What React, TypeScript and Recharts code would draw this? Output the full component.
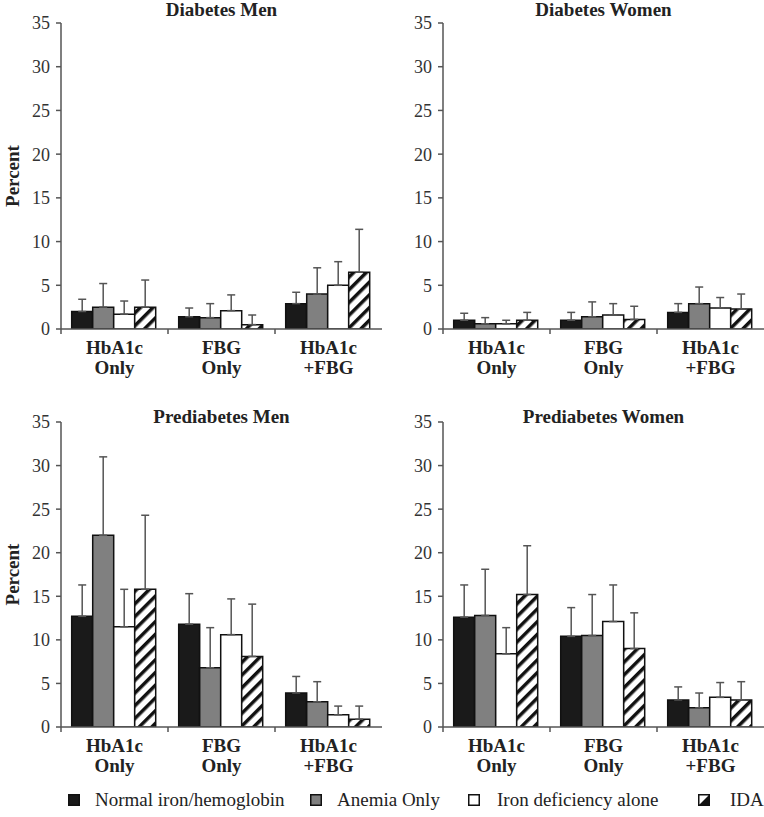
import React from 'react';
import { BarChart, Bar, XAxis, YAxis, ErrorBar } from 'recharts';

const SERIF = "'Liberation Serif', 'Times New Roman', serif";

const categories = ['HbA1c|Only', 'FBG|Only', 'HbA1c|+FBG'];
const seriesNames = ['Normal iron/hemoglobin', 'Anemia Only', 'Iron deficiency alone', 'IDA'];
const yTicks = [0, 5, 10, 15, 20, 25, 30, 35];

// one inner array per series, one value per category
const diabetesMenValues = [
  [2.0, 1.4, 2.9],
  [2.5, 1.3, 4.0],
  [1.7, 2.1, 5.0],
  [2.5, 0.5, 6.5],
];
const diabetesMenUpper = [
  [3.4, 2.4, 4.2],
  [5.2, 2.9, 7.0],
  [3.2, 3.9, 7.7],
  [5.6, 1.6, 11.4],
];
const diabetesWomenValues = [
  [1.0, 1.0, 1.9],
  [0.6, 1.4, 2.9],
  [0.6, 1.6, 2.4],
  [1.0, 1.1, 2.3],
];
const diabetesWomenUpper = [
  [1.8, 1.9, 2.9],
  [1.3, 3.1, 4.8],
  [1.0, 2.9, 3.6],
  [1.9, 2.6, 4.0],
];
const prediabetesMenValues = [
  [12.7, 11.8, 3.9],
  [22.0, 6.8, 2.9],
  [11.5, 10.6, 1.4],
  [15.8, 8.1, 0.9],
];
const prediabetesMenUpper = [
  [16.3, 15.3, 5.8],
  [31.0, 11.4, 5.2],
  [15.8, 14.7, 2.4],
  [24.3, 14.1, 2.4],
];
const prediabetesWomenValues = [
  [12.6, 10.4, 3.1],
  [12.8, 10.5, 2.2],
  [8.4, 12.1, 3.4],
  [15.2, 9.0, 3.1],
];
const prediabetesWomenUpper = [
  [16.3, 13.7, 4.6],
  [18.1, 15.2, 3.9],
  [11.4, 16.3, 5.1],
  [20.8, 13.1, 5.2],
];

const PANEL_W = 382;
const Y_AXIS_W = 61;
const BAND = (PANEL_W - Y_AXIS_W) / categories.length;

const buildRows = (values: number[][], upper: number[][]) =>
  categories.map((cat, i) => {
    const row: any = { cat };
    values.forEach((s, k) => {
      row[`s${k}`] = s[i];
      row[`e${k}`] = [0, +(upper[k][i] - s[i]).toFixed(2)];
    });
    return row;
  });

const CategoryTick = (props: any) => {
  const { x, y, payload, index } = props;
  const [l1, l2] = String(payload.value).split('|');
  const edge = x - BAND / 2;
  return (
    <g>
      <line x1={edge} x2={edge} y1={y} y2={y + 5} stroke="#555" strokeWidth={1.5} />
      <text x={x} y={y} textAnchor="middle" fontWeight="bold" fontSize={19} fontFamily={SERIF} fill="#222">
        <tspan x={x} dy={25}>{l1}</tspan>
        <tspan x={x} dy={20}>{l2}</tspan>
      </text>
    </g>
  );
};

type PanelProps = {
  id: string;
  title: string;
  values: number[][];
  upper: number[][];
  height: number;
  plotTop: number;
  xAxisHeight: number;
  titleY: number;
  showYLabel: boolean;
};

const Panel: React.FC<PanelProps> = ({ id, title, values, upper, height, plotTop, xAxisHeight, titleY, showYLabel }) => {
  const data = buildRows(values, upper);
  const fills = ['#1a1a1a', '#808080', '#ffffff', `url(#hatch-${id})`];
  const plotBottom = height - xAxisHeight;
  return (
    <div style={{ position: 'relative', width: PANEL_W, height }}>
      <BarChart
        width={PANEL_W}
        height={height}
        data={data}
        margin={{ top: plotTop, right: 0, bottom: 0, left: 0 }}
        barCategoryGap="10%"
        barGap={0}
      >
        <defs>
          <pattern id={`hatch-${id}`} width="9" height="9" patternUnits="userSpaceOnUse" patternTransform="rotate(45)">
            <rect width="9" height="9" fill="#fff" />
            <rect x="0" y="0" width="3.5" height="9" fill="#111" />
          </pattern>
        </defs>
        <XAxis
          dataKey="cat"
          interval={0}
          height={xAxisHeight}
          tickLine={false}
          tickSize={0}
          tickMargin={0}
          axisLine={{ stroke: '#555', strokeWidth: 1.5 }}
          tick={<CategoryTick />}
        />
        <YAxis
          domain={[0, 35]}
          ticks={yTicks}
          interval={0}
          width={Y_AXIS_W}
          tickSize={5}
          tickMargin={6}
          axisLine={{ stroke: '#555', strokeWidth: 1.5 }}
          tickLine={{ stroke: '#555', strokeWidth: 1.5 }}
          tick={{ fill: '#333', fontSize: 18, fontFamily: SERIF }}
          allowDataOverflow
        />
        {seriesNames.map((name, k) => (
          <Bar
            key={name}
            dataKey={`s${k}`}
            name={name}
            fill={fills[k]}
            stroke="#111"
            strokeWidth={1.5}
            isAnimationActive={false}
          >
            <ErrorBar dataKey={`e${k}`} direction="y" width={4} stroke="#555" strokeWidth={1.5} />
          </Bar>
        ))}
      </BarChart>
      <svg
        width={PANEL_W}
        height={height}
        style={{ position: 'absolute', left: 0, top: 0, pointerEvents: 'none' }}
      >
        <text
          x={(Y_AXIS_W + PANEL_W) / 2}
          y={titleY}
          textAnchor="middle"
          fontWeight="bold"
          fontSize={19}
          fontFamily={SERIF}
          fill="#222"
        >
          {title}
        </text>
        {showYLabel && (
          <text
            x={12}
            y={(plotTop + plotBottom) / 2}
            transform={`rotate(-90, 12, ${(plotTop + plotBottom) / 2})`}
            textAnchor="middle"
            dominantBaseline="central"
            fontWeight="bold"
            fontSize={19}
            fontFamily={SERIF}
            fill="#222"
          >
            Percent
          </text>
        )}
      </svg>
    </div>
  );
};

const legendSwatch = (k: number) => {
  if (k === 3) {
    return (
      <svg width={12} height={12}>
        <rect x={0.75} y={0.75} width={10.5} height={10.5} fill="#fff" stroke="#111" strokeWidth={1.5} />
        <polygon points="0.75,11.25 11.25,0.75 11.25,11.25" fill="#111" />
      </svg>
    );
  }
  const fill = ['#1a1a1a', '#808080', '#ffffff'][k];
  return (
    <svg width={12} height={12}>
      <rect x={0.75} y={0.75} width={10.5} height={10.5} fill={fill} stroke="#111" strokeWidth={1.5} />
    </svg>
  );
};

const legendSwatchX = [68, 310, 468, 698];
const legendTextX = [95, 337, 497, 730];

const App: React.FC = () => {
  return (
    <div
      style={{
        position: 'absolute',
        left: 0,
        top: 0,
        width: 764,
        height: 817,
        background: '#fff',
        fontFamily: SERIF,
        overflow: 'hidden',
      }}
    >
      <div style={{ position: 'absolute', left: 0, top: 0 }}>
        <Panel id="dm" title="Diabetes Men" values={diabetesMenValues} upper={diabetesMenUpper}
          height={380} plotTop={23} xAxisHeight={51} titleY={16} showYLabel />
      </div>
      <div style={{ position: 'absolute', left: 382, top: 0 }}>
        <Panel id="dw" title="Diabetes Women" values={diabetesWomenValues} upper={diabetesWomenUpper}
          height={380} plotTop={23} xAxisHeight={51} titleY={16} showYLabel={false} />
      </div>
      <div style={{ position: 'absolute', left: 0, top: 380 }}>
        <Panel id="pm" title="Prediabetes Men" values={prediabetesMenValues} upper={prediabetesMenUpper}
          height={400} plotTop={42} xAxisHeight={53} titleY={43} showYLabel />
      </div>
      <div style={{ position: 'absolute', left: 382, top: 380 }}>
        <Panel id="pw" title="Prediabetes Women" values={prediabetesWomenValues} upper={prediabetesWomenUpper}
          height={400} plotTop={42} xAxisHeight={53} titleY={43} showYLabel={false} />
      </div>
      {seriesNames.map((name, k) => (
        <React.Fragment key={name}>
          <div style={{ position: 'absolute', left: legendSwatchX[k], top: 794, lineHeight: 0 }}>
            {legendSwatch(k)}
          </div>
          <div
            style={{
              position: 'absolute',
              left: legendTextX[k],
              top: 788,
              fontSize: 19,
              lineHeight: '24px',
              color: '#222',
              whiteSpace: 'nowrap',
            }}
          >
            {name}
          </div>
        </React.Fragment>
      ))}
    </div>
  );
};

export default App;
